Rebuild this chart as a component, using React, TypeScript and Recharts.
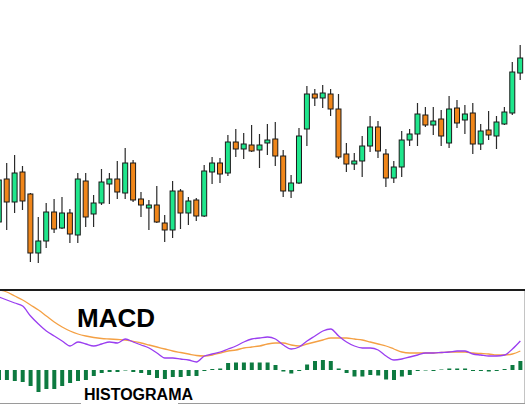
import React from 'react';
import { ComposedChart, Bar, Line, XAxis, YAxis } from 'recharts';

// Candlestick prices (arbitrary price units)
const opens = [78, 121, 98, 128, 106, 47, 59, 88, 72, 87, 65, 119, 86, 97, 116, 121, 107, 137, 101, 92, 95, 77, 70, 109, 87, 100, 84, 128, 137, 127, 158, 151, 155, 150, 157, 161, 144, 109, 117, 171, 206, 202, 206, 191, 146, 136, 139, 154, 173, 146, 122, 133, 160, 166, 185, 175, 181, 157, 192, 180, 187, 156, 170, 164, 176, 187, 227];
const highs = [128, 137, 145, 134, 107, 83, 97, 101, 103, 91, 127, 127, 105, 131, 127, 139, 152, 140, 108, 100, 114, 85, 119, 111, 103, 102, 135, 143, 142, 165, 171, 167, 175, 166, 176, 178, 150, 125, 172, 214, 211, 215, 211, 206, 157, 147, 164, 184, 179, 151, 139, 169, 171, 197, 193, 193, 190, 204, 200, 195, 197, 176, 189, 184, 193, 238, 255];
const lows = [72, 70, 87, 90, 38, 37, 52, 67, 71, 57, 57, 73, 73, 95, 96, 101, 101, 98, 83, 70, 77, 58, 62, 71, 75, 79, 83, 116, 117, 124, 143, 141, 148, 132, 145, 134, 103, 102, 116, 154, 194, 192, 184, 141, 128, 130, 123, 148, 142, 113, 117, 123, 154, 154, 173, 165, 154, 152, 172, 166, 146, 150, 160, 151, 175, 185, 220];
const closes = [120, 98, 127, 99, 47, 59, 88, 71, 87, 66, 121, 83, 97, 118, 121, 108, 137, 100, 95, 95, 78, 70, 109, 87, 99, 84, 129, 137, 126, 158, 151, 156, 149, 155, 160, 144, 109, 117, 164, 206, 202, 207, 191, 143, 136, 139, 154, 173, 149, 122, 133, 160, 166, 186, 175, 179, 164, 191, 177, 186, 156, 169, 165, 178, 188, 228, 242];

// MACD panel
const macdLine = [73, 70, 67, 64, 54, 46, 39, 34, 29, 24, 28, 26, 24, 26, 28, 27, 31, 28, 25, 22, 17, 12, 12, 11, 10, 8, 14, 16, 18, 21, 24, 28, 31, 32, 33, 31, 25, 21, 23, 29, 34, 39, 41, 34, 28, 24, 22, 22, 20, 14, 10, 11, 13, 15, 17, 17, 17.5, 18, 19, 19, 16, 15, 14, 14, 15, 21, 29];
const signalLine = [80, 78, 74, 70, 65, 60, 54, 48, 43, 39, 36, 34, 32.5, 31.5, 31, 30.5, 30, 28.5, 27, 25, 23, 21, 19, 17.5, 16, 14.5, 14, 15, 17, 19, 20, 22, 23, 24, 26, 27, 27, 25, 24, 26, 28, 30, 32, 32, 32, 31, 30, 28, 26, 24, 21, 18, 17, 17, 17, 17, 17.5, 18, 18, 18, 17, 16.5, 16, 15, 15, 16, 19];
const histogram = [-10, -10, -11, -12, -16, -22, -19, -19, -16, -13, -11, -10, -6, -3, -2, -2, -0.5, -2, -3, -5, -8, -9, -7, -7, -6, -6, -1, 1, 1.5, 7, 7.5, 7.5, 7.5, 7.5, 7.5, 5, -1.5, -3.5, -1, 5.5, 9, 10, 9, 1.5, -3, -6.5, -6.5, -5, -5.5, -9.5, -10, -6.5, -5, -1, -0.5, -1, 0.5, 1.5, 1.5, 1.5, -1, -1, -1.5, -1, 1, 5, 9];

const candleData = opens.map((o, i) => ({
  i,
  open: o,
  high: highs[i],
  low: lows[i],
  close: closes[i],
  range: [lows[i], highs[i]],
}));

const macdData = macdLine.map((m, i) => ({
  i,
  macd: m,
  signal: signalLine[i],
  hist: histogram[i],
}));

const GREEN = '#1fe68c';
const ORANGE = '#f0861a';

const Candle = (props: any) => {
  const { x, y, width, height, payload } = props;
  if (!payload || height == null) return null;
  const { open, close, high, low } = payload;
  const top = Math.min(y, y + height);
  const h = Math.abs(height);
  const toPx = (v: number) => top + ((high - v) / (high - low)) * h;
  const cx = x + width / 2;
  const pO = toPx(open);
  const pC = toPx(close);
  const bull = close >= open;
  const bTop = Math.min(pO, pC);
  const bH = Math.max(1.5, Math.abs(pO - pC));
  return (
    <g>
      <line x1={cx} x2={cx} y1={top} y2={top + h} stroke="#2a2a2a" strokeWidth={1.2} />
      <rect x={cx - 2.5} y={bTop} width={5} height={bH} fill={bull ? GREEN : ORANGE} stroke="#1a1a1a" strokeWidth={1} />
    </g>
  );
};

const CHART_LEFT = -5.35;
const CHART_W = 529.3;

export default function App() {
  return (
    <div style={{ position: 'absolute', left: 0, top: 0, width: 525, height: 405, overflow: 'hidden', background: '#fff' }}>
      <div style={{ position: 'absolute', left: CHART_LEFT, top: 0 }}>
        <ComposedChart width={CHART_W} height={290} data={candleData} margin={{ top: 0, right: 0, bottom: 0, left: 0 }}>
          <XAxis dataKey="i" hide />
          <YAxis hide domain={[10, 300]} allowDataOverflow />
          <Bar dataKey="range" isAnimationActive={false} shape={(p: any) => <Candle {...p} />} />
        </ComposedChart>
      </div>
      <div style={{ position: 'absolute', left: CHART_LEFT, top: 290 }}>
        <ComposedChart width={CHART_W} height={115} data={macdData} margin={{ top: 0, right: 0, bottom: 0, left: 0 }}>
          <XAxis dataKey="i" hide />
          <YAxis hide domain={[-35, 80]} allowDataOverflow />
          <Bar dataKey="hist" fill="#0d7a40" barSize={4} isAnimationActive={false} />
          <Line dataKey="signal" type="monotone" stroke="#f4a044" strokeWidth={1.3} dot={false} isAnimationActive={false} />
          <Line dataKey="macd" type="monotone" stroke="#9a3ef0" strokeWidth={1.3} dot={false} isAnimationActive={false} />
        </ComposedChart>
      </div>
      <svg width={525} height={405} style={{ position: 'absolute', left: 0, top: 0, pointerEvents: 'none' }}>
        <line x1={0} x2={525} y1={290} y2={290} stroke="#1c1c1c" strokeWidth={2} />
        <line x1={0} x2={81} y1={403.5} y2={403.5} stroke="#9a9a9a" strokeWidth={1} />
        <line x1={178} x2={525} y1={403.5} y2={403.5} stroke="#9a9a9a" strokeWidth={1} />
        <line x1={524.5} x2={524.5} y1={291} y2={403} stroke="#c4c4c4" strokeWidth={1} />
        <text x={77} y={327} fontFamily="'Liberation Sans', Arial, sans-serif" fontWeight="bold" fontSize={26} fill="#000">MACD</text>
        <text x={84} y={400} fontFamily="'Liberation Sans', Arial, sans-serif" fontWeight="bold" fontSize={16} fill="#000">HISTOGRAMA</text>
      </svg>
    </div>
  );
}
